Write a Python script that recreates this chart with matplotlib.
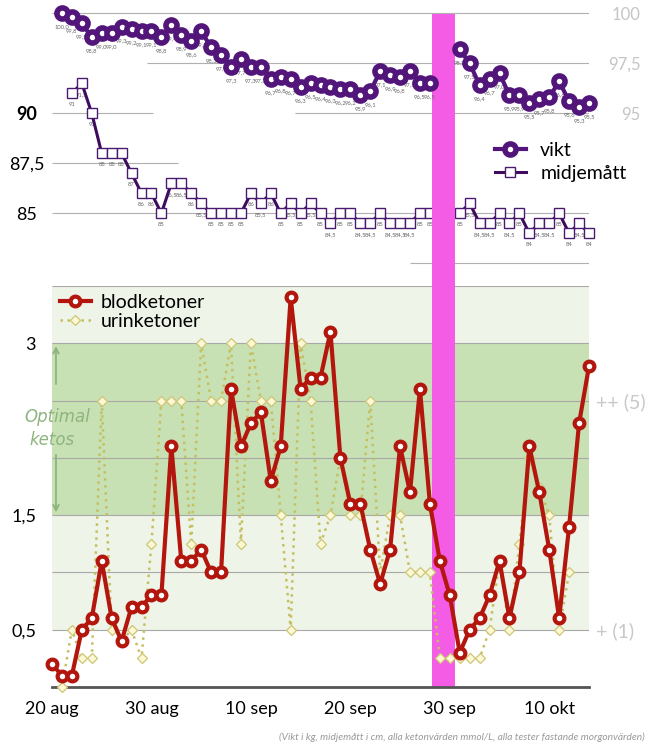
import numpy as np
import matplotlib
matplotlib.use("Agg")
import matplotlib.pyplot as plt

nan = np.nan

# ---------------- data ----------------
tick_positions = [0, 10, 20, 30, 40, 50]
tick_labels = ["20 aug", "30 aug", "10 sep", "20 sep", "30 sep", "10 okt"]

vikt = [nan, 100.0, 99.8, 99.5, 98.8, 99.0, 99.0, 99.3, 99.2, 99.1, 99.1,
        98.8, 99.4, 98.9, 98.6, 99.1, 98.3, 97.9, 97.3, 97.7, 97.3,
        97.3, 96.7, 96.8, 96.7, 96.3, 96.5, 96.4, 96.3, 96.2, 96.2,
        95.9, 96.1, 97.1, 96.9, 96.8, 97.1, 96.5, 96.5, nan, nan,
        98.2, 97.5, 96.4, 96.7, 97.0, 95.9, 95.9, 95.5, 95.7, 95.8,
        96.6, 95.6, 95.3, 95.5]

midjematt = [nan, nan, 91, 91.5, 90, 88, 88, 88, 87, 86, 86,
             85, 86.5, 86.5, 86, 85.5, 85, 85, 85, 85, 86,
             85.5, 86, 85, 85.5, 85, 85.5, 85, 84.5, 85, 85,
             84.5, 84.5, 85, 84.5, 84.5, 84.5, 85, 85, nan, nan,
             85, 85.5, 84.5, 84.5, 85, 84.5, 85, 84, 84.5, 84.5,
             85, 84, 84.5, 84]

blodketoner = [0.2, 0.1, 0.1, 0.5, 0.6, 1.1, 0.6, 0.4, 0.7, 0.7, 0.8,
               0.8, 2.1, 1.1, 1.1, 1.2, 1.0, 1.0, 2.6, 2.1, 2.3,
               2.4, 1.8, 2.1, 3.4, 2.6, 2.7, 2.7, 3.1, 2.0, 1.6,
               1.6, 1.2, 0.9, 1.2, 2.1, 1.7, 2.6, 1.6, 1.1, 0.8,
               0.3, 0.5, 0.6, 0.8, 1.1, 0.6, 1.0, 2.1, 1.7, 1.2,
               0.6, 1.4, 2.3, 2.8]

urinketoner = [nan, 0.0, 0.5, 0.25, 0.25, 2.5, 0.5, 0.4, 0.5, 0.25, 1.25,
               2.5, 2.5, 2.5, 1.25, 3.0, 2.5, 2.5, 3.0, 1.25, 3.0,
               2.5, 2.5, 1.5, 0.5, 3.0, 2.5, 1.25, 1.5, 2.0, 1.5,
               1.5, 2.5, 1.0, 1.5, 1.5, 1.0, 1.0, 1.0, 0.25, 0.25,
               0.25, 0.25, 0.25, 0.5, 1.1, 0.5, 1.25, 2.0, 1.75, 1.5,
               0.5, 1.0, nan, nan]

vikt_ticks = [95, 97.5, 100]
midje_ticks = [85, 87.5, 90]
keton_ticks = [0.5, 1.5, 3]
keton_grid = [0.5, 1.0, 1.5, 2.0, 2.5, 3.0, 3.5]
urin_ticks = [0.5, 2.5]
urin_labels = ["+ (1)", "++ (5)"]
optimal_range = (1.5, 3.0)
footnote = ("(Vikt i kg, midjemått i cm, alla ketonvärden mmol/L, "
            "alla tester fastande morgonvärden)")


def sv(v, fmt):
    return format(v, fmt).replace('.', ',')


plt.rcParams['font.family'] = ['Lato', 'DejaVu Sans']

W, H = 650, 744
fig = plt.figure(figsize=(W / 100, H / 100), dpi=100)
fig.patch.set_facecolor('white')


def rect(x0, y0, x1, y1):
    return [x0 / W, 1 - y1 / H, (x1 - x0) / W, (y1 - y0) / H]


X0, X1 = 52, 589
x = np.arange(len(blodketoner))
XMAX = len(x) - 1
PINK = '#f45ce6'
BAND = (38.25, 40.55)

PURPLE = '#52157a'
MIDJ = '#3e0b5e'
RED = '#b3160d'

# ---------------- bottom chart (ketones) ----------------
axb = fig.add_axes(rect(X0, 286, X1, 687))
axb.set_xlim(0, XMAX)
axb.set_ylim(0, 3.5)
axb.set_facecolor('none')
axb.axhspan(0.5, 3.5, color='#eef4e8', zorder=0, lw=0)
axb.axhspan(optimal_range[0], optimal_range[1], color='#c8e1b4', zorder=0.1, lw=0)
axb.hlines(keton_grid, 0, XMAX, colors='#a8a8a8', lw=0.8, zorder=0.5)
axb.axvspan(BAND[0], BAND[1], color=PINK, lw=0, zorder=1)

lu, = axb.plot(x, urinketoner, ls=(0, (1, 1.8)), color='#c4c062', lw=1.8,
               marker='D', ms=5.2, mfc='#fcf8d4', mec='#cdc676', mew=0.9,
               zorder=2, clip_on=False)
lb, = axb.plot(x, blodketoner, color=RED, lw=3.0, marker='o', ms=7,
               mfc='white', mec=RED, mew=3.0, zorder=3, clip_on=False)

for s in ['top', 'right', 'left']:
    axb.spines[s].set_visible(False)
axb.spines['bottom'].set_color('#555555')
axb.spines['bottom'].set_linewidth(2)
axb.spines['bottom'].set_zorder(1.5)
axb.set_xticks(tick_positions, tick_labels)
axb.tick_params(axis='x', length=0, pad=10, labelsize=13, labelcolor='black')
axb.set_yticks(keton_ticks, [sv(v, 'g') for v in keton_ticks])
axb.tick_params(axis='y', length=0, pad=11.5, labelsize=13, labelcolor='black')

leg = axb.legend([lb, lu], ['blodketoner', 'urinketoner'], loc='upper left',
                 bbox_to_anchor=(59.5 / W, 1 - 294 / H),
                 bbox_transform=fig.transFigure, frameon=False, fontsize=14,
                 handlelength=1.6, handletextpad=0.5, labelspacing=0.1,
                 borderpad=0, borderaxespad=0)

axr = axb.twinx()
axr.set_ylim(0, 3.5)
axr.set_yticks(urin_ticks, urin_labels)
axr.tick_params(axis='y', length=0, pad=5, labelsize=14, labelcolor='#c8c8c8')
for s in axr.spines.values():
    s.set_visible(False)

# Optimal ketos annotation
arrow_kw = dict(arrowstyle='->', color='#8db47d', lw=1.3)
axb.annotate('', xy=(0.4, optimal_range[1]), xytext=(0.4, 2.62),
             arrowprops=arrow_kw, annotation_clip=False)
axb.annotate('', xy=(0.4, optimal_range[0]), xytext=(0.4, 2.05),
             arrowprops=arrow_kw, annotation_clip=False)
fig.text(57 / W, 1 - 417 / H, 'Optimal', ha='center', va='center',
         fontsize=12, style='italic', color='#8db47d', family='DejaVu Sans')
fig.text(52 / W, 1 - 440 / H, 'ketos', ha='center', va='center',
         fontsize=12, style='italic', color='#8db47d', family='DejaVu Sans')

# ---------------- top chart (weight / waist) ----------------
axt = fig.add_axes(rect(X0, 0, X1, 286))
axt.set_xlim(0, XMAX)
axt.set_ylim(90 - (286 - 113.3) / 20, 90 + 113.3 / 20)
axt.set_facecolor('none')
for s in axt.spines.values():
    s.set_visible(False)
axt.set_xticks([])

# partial gridlines (midjemått)
axt.hlines(90, 0, 10.2, colors='#b0b0b0', lw=0.8, zorder=0.5)
axt.hlines(87.5, 0, 12.7, colors='#b0b0b0', lw=0.8, zorder=0.5)
axt.hlines(85, 0, XMAX, colors='#b0b0b0', lw=0.8, zorder=0.5)
axt.hlines(82.5, 36.0, XMAX, colors='#b0b0b0', lw=0.8, zorder=0.5)

lm, = axt.plot(x, midjematt, color=MIDJ, lw=2.2, marker='s', ms=6.5,
               mfc='white', mec='#4a1a70', mew=1.0, zorder=3, clip_on=False)
for i, v in enumerate(midjematt):
    if not np.isnan(v):
        axt.annotate(sv(v, 'g'), (i, v), xytext=(0, -11),
                     textcoords='offset pixels', ha='center', va='center',
                     fontsize=4.2, color='#666666', zorder=2)

axt.set_yticks(midje_ticks, [sv(v, 'g') for v in midje_ticks])
axt.tick_params(axis='y', length=0, pad=18, labelsize=13, labelcolor='black')
for lbl in axt.get_yticklabels():
    lbl.set_ha('center')
    if lbl.get_text() == '90':
        lbl.set_fontweight('bold')

axv = axt.twinx()
axv.set_ylim(95 - (286 - 113.3) / 20, 95 + 113.3 / 20)
for s in axv.spines.values():
    s.set_visible(False)
axv.hlines(100, 0, XMAX, colors='#b0b0b0', lw=0.8, zorder=0.5)
axv.hlines(97.5, 9.55, XMAX, colors='#b0b0b0', lw=0.8, zorder=0.5)
axv.hlines(95, 24.4, XMAX, colors='#b0b0b0', lw=0.8, zorder=0.5)
axv.axvspan(BAND[0], BAND[1], ymin=0, ymax=(286 - 14) / 286, color=PINK,
            lw=0, zorder=1)

lv, = axv.plot(x, vikt, color=PURPLE, lw=3.0, marker='o', ms=8,
               mfc='white', mec=PURPLE, mew=4.0, zorder=3, clip_on=False)
for i, v in enumerate(vikt):
    if not np.isnan(v):
        axv.annotate(sv(v, '.1f'), (i, v), xytext=(0, -13),
                     textcoords='offset pixels', ha='center', va='center',
                     fontsize=4.2, color='#666666', zorder=2)

axv.set_yticks(vikt_ticks, [sv(v, 'g') for v in vikt_ticks])
axv.tick_params(axis='y', length=0, pad=37, labelsize=12, labelcolor='#c5c5c5')
for lbl in axv.get_yticklabels():
    lbl.set_ha('right')

axv.legend([lv, lm], ['vikt', 'midjemått'], loc='upper left',
           bbox_to_anchor=(494.5 / W, 1 - 142 / H),
           bbox_transform=fig.transFigure, frameon=False, fontsize=14,
           handlelength=1.6, handletextpad=0.75, labelspacing=0.3,
           borderpad=0, borderaxespad=0)

fig.text(645 / W, 1 - 737 / H, footnote, ha='right', va='center',
         fontsize=7.3, style='italic', color='#999999')

fig.savefig('out.png', dpi=100, facecolor='white')
